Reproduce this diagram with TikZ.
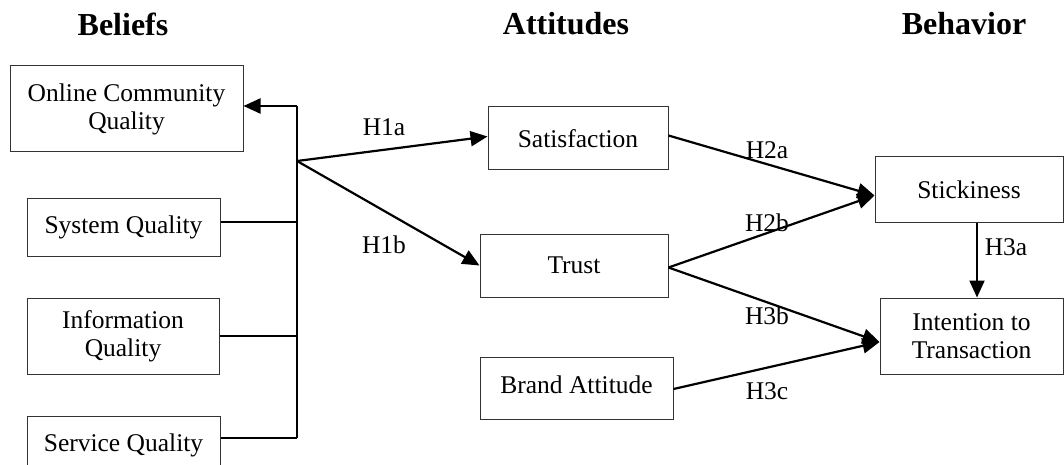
\documentclass[tikz,border=0pt]{standalone}
\usepackage{fontspec}
\setmainfont{Liberation Serif}
\usetikzlibrary{arrows.meta}
\begin{document}
\begin{tikzpicture}[x=1pt,y=-1pt,
  box/.style={draw=black!80,line width=1pt,rectangle,align=center,inner sep=0pt,
    font=\fontsize{25.5}{28}\selectfont},
  head/.style={font=\fontsize{32}{36}\selectfont\bfseries,inner sep=0pt},
  hlab/.style={font=\fontsize{25.5}{28}\selectfont,inner sep=0pt},
  conn/.style={line width=2.2pt},
  arr/.style={line width=2.2pt,-{Triangle[length=17pt,width=15pt]}}]
\clip (0,0) rectangle (1064,465);
\fill[white] (0,0) rectangle (1064,465);
% headings
\node[head] (hb) at (123,24) {Beliefs};
\node[head] (ha) at (566,24) {Attitudes};
\node[head] (hv) at (964,24) {Behavior};
% belief boxes
\node[box,minimum width=233pt,minimum height=86pt] (ocq) at (126.5,109) {Online Community\\Quality};
\node[box,minimum width=193pt,minimum height=58pt] (sys) at (123.5,227) {System Quality};
\node[box,minimum width=192pt,minimum height=76pt] (info) at (123,336) {Information\\Quality};
\node[box,minimum width=193pt,minimum height=58pt] (serv) at (123.5,445) {Service Quality};
% attitude boxes
\node[box,minimum width=180pt,minimum height=63pt] (sat) at (578,138.5) {Satisfaction};
\node[box,minimum width=188pt,minimum height=63pt] (trust) at (574,265.5) {Trust};
\node[box,minimum width=193pt,minimum height=62pt] (brand) at (576.5,388) {\raisebox{6pt}{Brand Attitude}};
% behavior boxes
\node[box,minimum width=188pt,minimum height=65pt] (stick) at (969,189.5) {Stickiness};
\node[box,minimum width=183pt,minimum height=76pt] (intent) at (971.5,336) {Intention to\\Transaction};
% trunk
\coordinate (top) at (297,106);
\coordinate (bot) at (297,438);
\coordinate (j) at (297,161);
\draw[conn] ([yshift=5pt]sys.east) -- ([yshift=5pt]sys.east -| top);
\draw[conn] (info.east) -- (info.east -| top);
\draw[conn] ([yshift=7pt]serv.east) -- ([yshift=7pt]serv.east -| top);
\draw[conn] (bot) -- (top);
\draw[arr] (top) -- ([yshift=3pt]ocq.east);
% H1
\draw[arr] (j) -- ([yshift=2pt]sat.west);
\draw[arr] (j) -- (trust.west);
% H2, H3
\draw[arr] ([yshift=3pt]sat.east) -- ([yshift=-6pt]stick.west);
\draw[arr] ([yshift=-2pt]trust.east) -- ([yshift=-6pt]stick.west);
\draw[arr] ([yshift=-2pt]trust.east) -- ([yshift=-6pt]intent.west);
\draw[arr] ([yshift=-1pt]brand.east) -- ([yshift=-6pt]intent.west);
\draw[arr] ([xshift=8pt]stick.south) -- ([xshift=8pt]stick.south |- intent.north);
% labels
\node[hlab] (l1a) at (384,127) {H1a};
\node[hlab] (l1b) at (384,245) {H1b};
\node[hlab] (l2a) at (767,150) {H2a};
\node[hlab] (l2b) at (767,223) {H2b};
\node[hlab] (l3b) at (767,316) {H3b};
\node[hlab] (l3c) at (767,391) {H3c};
\node[hlab] (l3a) at (1006,247) {H3a};
\end{tikzpicture}
\end{document}
